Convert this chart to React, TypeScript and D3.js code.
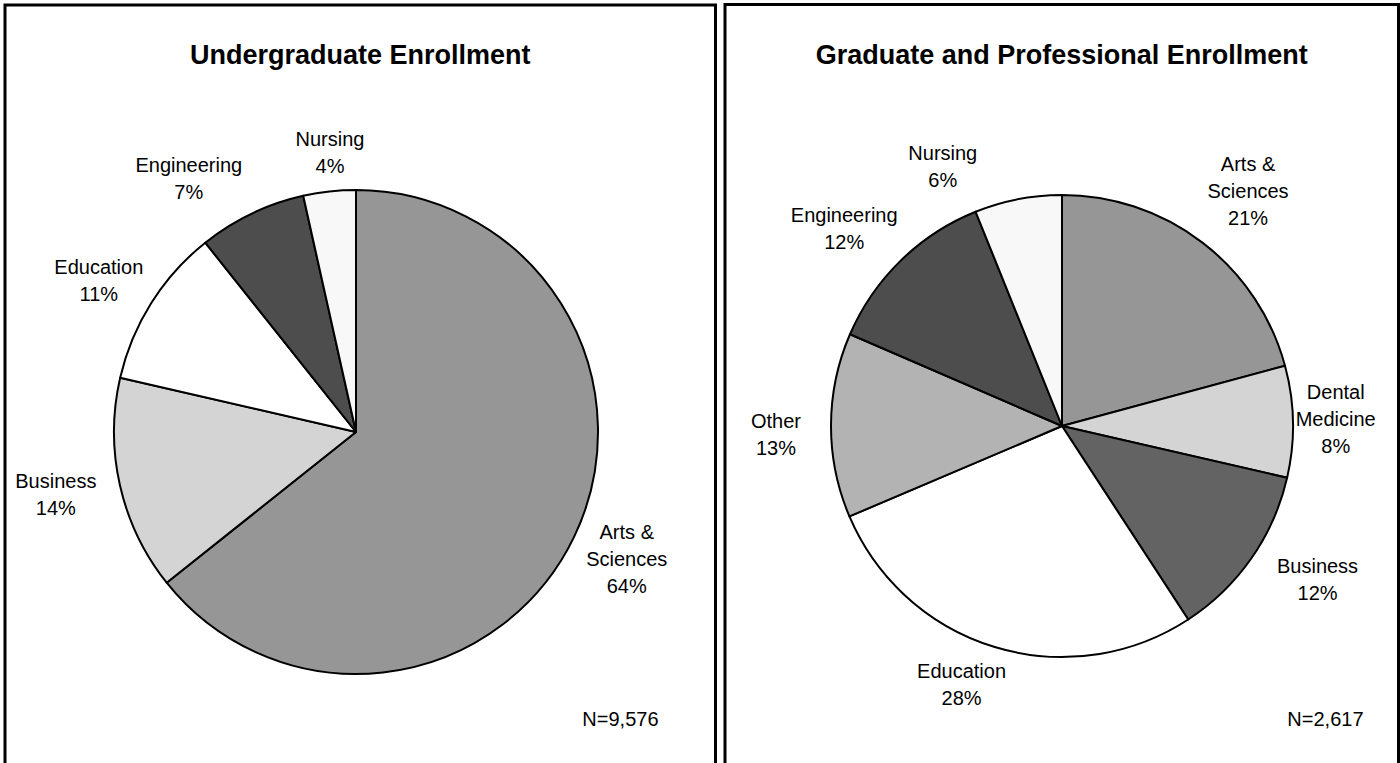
import React from "react";
import * as d3 from "d3";

// ---- Data ----
const ugCategories = ["Arts & Sciences", "Business", "Education", "Engineering", "Nursing"];
const ugValues = [64.3, 14.3, 10.7, 7.2, 3.5];
const ugLabelLines = [["Arts &", "Sciences"], ["Business"], ["Education"], ["Engineering"], ["Nursing"]];
const ugColors = ["#969696", "#d4d4d4", "#ffffff", "#4d4d4d", "#f8f8f8"];
const ugTitle = "Undergraduate Enrollment";
const ugN = "N=9,576";

const grCategories = ["Arts & Sciences", "Dental Medicine", "Business", "Education", "Other", "Engineering", "Nursing"];
const grValues = [20.8, 7.8, 12.2, 27.8, 12.9, 12.4, 6.1];
const grLabelLines = [["Arts &", "Sciences"], ["Dental", "Medicine"], ["Business"], ["Education"], ["Other"], ["Engineering"], ["Nursing"]];
const grColors = ["#969696", "#d4d4d4", "#636363", "#ffffff", "#b3b3b3", "#4d4d4d", "#f8f8f8"];
const grTitle = "Graduate and Professional Enrollment";
const grN = "N=2,617";

// ---- Layout (label nudges away from the default outside-end placement) ----
const ugLabelNudge: [number, number][] = [[-5, -6], [-10, -3], [0, 11], [-38, 17], [5, 1]];
const grLabelNudge: [number, number][] = [[5, 1], [-8, -2], [18, -12], [-19, -9], [-20, 9], [-10, 16], [-67, 10]];

const FONT = "'Liberation Sans', Arial, sans-serif";
const LABEL_SIZE = 20;
const LINE_H = 27;
const TITLE_SIZE = 27;

let ctx: CanvasRenderingContext2D | null = null;
function textWidth(s: string, size: number, bold = false) {
  if (!ctx) ctx = document.createElement("canvas").getContext("2d");
  if (!ctx) return s.length * size * 0.55;
  ctx.font = `${bold ? "bold " : ""}${size}px 'Liberation Sans', Arial, sans-serif`;
  return ctx.measureText(s).width;
}

type PanelProps = {
  x0: number; x1: number; y0: number; cx: number; cy: number; r: number;
  values: number[]; categories: string[]; lines: string[][]; colors: string[];
  title: string; n: string; nInset: number; gap: number; nudge: [number, number][];
};

function Panel(p: PanelProps) {
  const pie = d3.pie<number>().sort(null).value((d) => d)(p.values);
  const arc = d3.arc<d3.PieArcDatum<number>>().innerRadius(0).outerRadius(p.r);
  const total = d3.sum(p.values);
  return (
    <g>
      <rect x={p.x0} y={p.y0} width={p.x1 - p.x0} height={900} fill="#fff" stroke="#000" strokeWidth={3} />
      <text x={(p.x0 + p.x1) / 2} y={64} textAnchor="middle" fontFamily={FONT} fontWeight="bold" fontSize={TITLE_SIZE}>
        {p.title}
      </text>
      <g transform={`translate(${p.cx},${p.cy})`}>
        {pie.map((s, i) => (
          <path key={p.categories[i]} d={arc(s) || ""} fill={p.colors[i]} stroke="#000" strokeWidth={2} strokeLinejoin="round" />
        ))}
      </g>
      {pie.map((s, i) => {
        const mid = (s.startAngle + s.endAngle) / 2;
        const dx = Math.sin(mid), dy = -Math.cos(mid);
        const ls = [...p.lines[i], `${Math.round((s.value / total) * 100)}%`];
        const w = d3.max(ls, (l) => textWidth(l, LABEL_SIZE)) || 0;
        const h = ls.length * LINE_H;
        const ext = Math.abs(dx) * w / 2 + Math.abs(dy) * h / 2;
        const d = p.r + p.gap + ext;
        const lx = p.cx + dx * d + p.nudge[i][0], ly = p.cy + dy * d + p.nudge[i][1];
        return (
          <text key={"l" + i} textAnchor="middle" fontFamily={FONT} fontSize={LABEL_SIZE}>
            {ls.map((l, j) => (
              <tspan key={j} x={lx} y={ly - h / 2 + LINE_H * (j + 0.5) + LABEL_SIZE * 0.35}>{l}</tspan>
            ))}
          </text>
        );
      })}
      <text x={p.x1 - p.nInset} y={726} textAnchor="end" fontFamily={FONT} fontSize={LABEL_SIZE}>{p.n}</text>
    </g>
  );
}

export default function App() {
  return (
    <svg width={1400} height={763} style={{ position: "absolute", left: 0, top: 0, background: "#fff" }}>
      <rect x={0} y={0} width={1400} height={763} fill="#fff" />
      <Panel x0={5} x1={715.5} y0={5} cx={356} cy={432} r={242} values={ugValues} categories={ugCategories}
        lines={ugLabelLines} colors={ugColors} title={ugTitle} n={ugN} nInset={57} gap={10} nudge={ugLabelNudge} />
      <Panel x0={725} x1={1398.5} y0={4.5} cx={1062} cy={426} r={231} values={grValues} categories={grCategories}
        lines={grLabelLines} colors={grColors} title={grTitle} n={grN} nInset={35} gap={10} nudge={grLabelNudge} />
    </svg>
  );
}
